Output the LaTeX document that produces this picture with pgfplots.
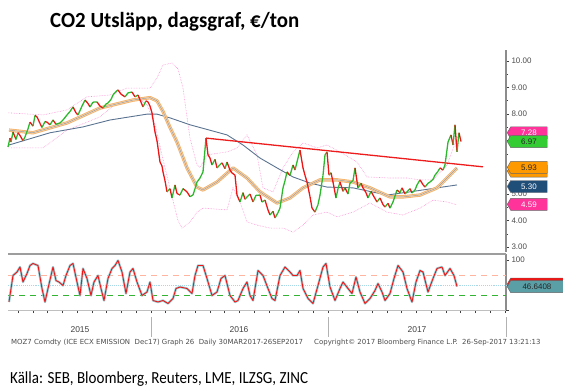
\documentclass[border=0pt]{standalone}
\usepackage{fontspec}
\setmainfont{Carlito}
\newfontfamily\axfont{Liberation Sans}
\newfontfamily\ftfont{DejaVu Sans}
\usepackage{pgfplots}
\pgfplotsset{compat=1.18}
\usepgfplotslibrary{colormaps}
\usetikzlibrary{shapes.symbols}

\definecolor{cgreen}{HTML}{2DB82D}
\definecolor{cred}{HTML}{F01515}
\definecolor{cma}{HTML}{F4B26A}
\definecolor{cnavy}{HTML}{5A7390}
\definecolor{cpink}{HTML}{FF8FD0}
\definecolor{ctrend}{HTML}{EE1C1C}
\definecolor{ctagpink}{HTML}{FF3399}
\definecolor{ctaggreen}{HTML}{33CC33}
\definecolor{ctagorange}{HTML}{FF9900}
\definecolor{ctagnavy}{HTML}{1F4E79}
\definecolor{cteal}{HTML}{5A9EA6}
\definecolor{crsish}{HTML}{9CD2DA}
\definecolor{caxis}{HTML}{8C8C8C}
\definecolor{chi}{RGB}{255,180,160}
\definecolor{clo}{RGB}{50,180,50}
\definecolor{cmid}{RGB}{170,215,232}

\newsavebox\titlebox
\newsavebox\srcbox

\pgfplotstableread{
x y d
8 6.77 1
10 7.10 0
11 6.95 1
13 7.33 0
16 7.05 1
18 7.30 0
20 7.20 0
23 7.00 1
25 7.14 1
28 7.45 1
30 7.70 0
33 7.55 1
35 7.95 0
37 7.90 0
40 7.65 0
42 7.50 1
45 7.72 0
47 7.70 0
50 7.60 1
53 7.78 0
56 7.62 1
60 7.67 1
63 7.78 1
67 7.97 1
70 8.10 1
73 8.27 0
76 8.05 0
78 7.97 1
82 8.30 1
85 8.53 0
88 8.40 0
90 8.27 1
93 8.45 1
97 8.46 0
100 8.30 0
103 8.23 1
106 8.38 1
108 8.42 1
111 8.55 1
113 8.72 1
116 8.85 1
118 8.91 0
121 8.75 0
125 8.65 1
128 8.80 1
132 8.83 0
135 8.65 1
138 8.72 0
141 8.45 0
143 8.27 1
146 8.50 0
148 8.46 0
150 8.30 0
152 8.05 0
155 7.33 0
157 7.00 0
160 6.20 0
162 6.05 0
163 5.83 0
165 5.50 0
167 5.08 1
170 5.20 0
172 4.85 1
175 5.34 0
177 5.02 0
180 4.96 1
183 5.20 0
187 5.08 0
190 4.90 1
193 4.96 1
195 5.20 1
197 5.45 1
200 5.60 1
203 5.83 1
206 7.10 0
208 6.47 0
210 6.35 0
212 6.09 1
215 6.30 0
217 5.98 1
220 6.10 1
222 6.17 0
225 5.95 1
227 6.20 0
230 5.90 0
232 5.79 0
235 5.71 0
237 4.96 0
240 4.70 1
243 5.05 0
245 4.80 1
247 4.89 1
250 5.00 0
253 4.70 1
256 4.95 1
260 4.96 0
262 4.70 1
265 4.77 0
268 4.40 0
270 4.21 1
273 4.35 0
275 4.10 1
278 4.30 1
280 4.47 1
283 5.23 1
285 5.50 1
287 5.83 0
290 5.70 1
293 6.09 0
295 5.90 1
297 6.20 1
300 6.65 0
303 5.98 0
305 5.70 0
307 5.45 0
310 4.90 0
312 4.47 0
315 4.32 1
318 4.60 1
320 4.96 1
323 5.70 1
325 6.47 1
327 6.58 0
329 5.71 1
331 5.80 0
333 5.45 0
336 4.85 1
338 5.20 1
340 5.45 0
343 5.10 1
345 5.23 0
348 5.00 1
350 5.41 1
353 5.50 1
355 5.98 0
358 5.23 1
361 5.40 0
363 5.23 0
366 5.05 0
368 4.85 1
371 5.10 0
373 4.96 0
377 4.70 1
380 4.85 0
383 4.60 0
385 4.51 1
388 4.65 0
390 4.47 1
393 4.70 1
397 5.15 0
400 5.05 1
402 5.23 0
405 5.00 1
407 5.08 1
410 5.20 0
412 5.04 1
415 5.15 1
417 5.34 1
420 5.53 0
423 5.35 0
425 5.26 1
428 5.40 1
430 5.45 1
433 5.55 1
435 5.71 1
438 5.85 1
440 5.98 0
443 5.90 1
445 6.09 1
448 6.95 1
451 7.22 0
453 6.84 1
455 7.60 0
457 6.58 1
459 7.30 0
461 6.97 0
}\price

\pgfplotstableread{
x y
8 8.05
43 7.97
67 8.16
87 8.65
110 8.72
127 8.98
150 8.98
157 9.36
163 9.85
172 9.92
178 9.70
183 8.98
187 7.90
190 7.10
197 6.09
200 6.00
207 6.47
227 6.58
237 6.73
247 7.22
257 6.47
263 5.23
273 5.08
283 5.98
293 6.58
303 6.92
317 6.73
327 6.84
340 6.58
357 6.20
367 5.64
390 5.60
407 5.60
420 5.53
433 5.53
447 6.09
455 6.90
459 7.28
}\bbup

\pgfplotstableread{
x y
8 6.73
43 6.73
67 7.40
87 7.70
100 7.90
117 8.42
140 8.53
147 8.35
155 7.60
163 6.30
172 4.90
178 4.00
182 3.72
190 3.95
197 4.32
203 4.47
227 4.40
233 5.23
240 4.70
247 3.95
257 3.83
270 3.72
283 3.72
293 3.57
303 3.83
313 4.21
327 4.32
337 4.14
353 4.32
370 4.66
387 4.32
403 4.21
420 4.47
433 4.77
447 4.70
457 4.59
}\bblo

\pgfplotstableread{
x y
9 7.40
33 7.30
67 7.67
100 8.23
133 8.53
150 8.62
157 8.50
163 8.10
170 7.50
177 6.95
187 5.98
197 5.26
203 5.15
217 5.45
233 5.98
247 5.60
260 5.08
277 4.66
290 4.85
303 5.23
320 5.53
337 5.53
353 5.45
370 5.23
390 4.89
403 4.89
420 4.96
437 5.23
447 5.60
457 5.98
}\mavg

\pgfplotstableread{
x y
9 6.84
50 7.30
83 7.52
110 7.78
147 8.00
157 8.00
170 7.86
190 7.60
227 7.22
243 6.84
260 6.35
277 5.98
293 5.64
310 5.41
327 5.26
353 5.23
387 4.96
410 5.08
437 5.23
457 5.34
}\mlong

\pgfplotstableread{
x y
9 16
13 69
17 76
20 86
23 56
27 73
30 89
33 93
38 89
42 43
45 16
48 43
53 86
56 59
59 56
63 49
66 69
70 89
73 93
77 56
80 29
83 83
87 63
91 29
94 56
98 69
101 43
104 19
108 63
112 83
115 89
118 99
122 76
126 33
130 76
133 83
137 56
142 29
147 36
150 56
153 19
158 16
163 19
168 13
173 23
176 43
180 46
187 43
192 33
195 69
198 89
203 89
207 63
212 29
217 36
221 63
225 69
230 29
235 16
238 19
243 43
247 56
250 29
253 19
258 79
263 69
268 43
272 23
275 19
280 69
285 86
290 76
293 69
297 69
300 79
303 43
308 23
313 13
318 49
323 86
326 93
330 46
335 19
340 43
343 56
348 43
352 33
356 66
360 36
365 13
370 23
375 39
378 53
382 36
385 19
390 33
394 63
398 89
403 76
407 43
412 16
416 56
420 79
423 76
428 36
433 63
437 83
442 86
445 69
450 83
454 69
457 47
}\rsi

\begin{document}%
\sbox\titlebox{\bfseries\fontsize{21.7}{26}\selectfont CO2 Utsläpp, dagsgraf, €/ton}%
\sbox\srcbox{\fontsize{17}{20}\selectfont Källa: SEB, Bloomberg, Reuters, LME, ILZSG, ZINC}%
\pgfmathsetmacro\tscale{249.93/\wd\titlebox}%
\pgfmathsetmacro\sscale{299.12/\wd\srcbox}%
\begin{tikzpicture}
\path[use as bounding box] (0,0) rectangle (563bp,-390bp);

\begin{axis}[
  at={(8bp,-252bp)}, anchor=south west, scale only axis,
  width=498bp, height=202bp,
  xmin=8, xmax=506, ymin=2.82, ymax=10.41,
  axis x line=none, axis y line*=right,
  y axis line style={caxis, line width=1.5pt},
  ytick={3,4,...,10}, minor ytick={3.5,4.5,...,9.5},
  tick align=outside, major tick length=3bp, minor tick length=2bp,
  every tick/.style={black!75, line width=0.8pt},
  /pgf/number format/assume math mode=true,
  y tick label style={font=\axfont\fontsize{8}{9}\selectfont, text=black!70,
     /pgf/number format/fixed, /pgf/number format/fixed zerofill,
     /pgf/number format/precision=2, xshift=-1bp},
  clip=false,
]
\addplot[cpink, densely dotted, line width=0.6pt] table {\bbup};
\addplot[cpink, densely dotted, line width=0.6pt] table {\bblo};
\addplot[cnavy, line width=0.9pt] table {\mlong};
\addplot[cma, line width=3.4pt, line join=round] table {\mavg};
\addplot[white, opacity=0.55, line width=1.6pt, line join=round] table {\mavg};
\addplot[black!40, line width=0.5pt] table {\mavg};
\addplot[ctrend, line width=1.3pt] coordinates {(206,7.10) (483,6.02)};
\addplot[mesh, shader=flat corner, point meta=explicit, point meta min=0, point meta max=1,
  colormap={rg}{color(0)=(cred) color(1)=(cgreen)}, line width=1.3pt]
  table[meta=d] {\price};
\coordinate (t728) at (axis cs:507,7.30);
\coordinate (t697) at (axis cs:507,6.97);
\coordinate (t593b) at (axis cs:507,5.86);
\coordinate (t593) at (axis cs:507,6.00);
\coordinate (t530) at (axis cs:507,5.28);
\coordinate (t459) at (axis cs:507,4.61);
\end{axis}

\begin{axis}[
  at={(8bp,-310bp)}, anchor=south west, scale only axis,
  width=498bp, height=56bp,
  xmin=8, xmax=506, ymin=0, ymax=112,
  axis x line*=bottom, axis y line*=right,
  y axis line style={caxis, line width=1.5pt},
  x axis line style={black!25, line width=0.6pt},
  xtick={18.25,33,...,506}, xticklabels={},
  ytick={0,50,100}, yticklabels={,,100},
  tick align=outside, major tick length=3bp,
  every tick/.style={black!75, line width=0.6pt},
  /pgf/number format/assume math mode=true,
  y tick label style={font=\axfont\fontsize{8}{9}\selectfont, text=black!70, xshift=-1bp},
  clip=false,
]
\draw[caxis!85, line width=1.8pt] (rel axis cs:0,1) -- (rel axis cs:1,1);
\addplot[draw=chi, color=chi, dash pattern=on 6bp off 5bp, line width=1pt] coordinates {(8,70) (506,70)};
\addplot[draw=clo, color=clo, dash pattern=on 6bp off 5bp, line width=1pt] coordinates {(8,30) (506,30)};
\addplot[draw=cmid, color=cmid, densely dotted, line width=0.9pt] coordinates {(8,50) (506,50)};
\addplot[draw=crsish, line width=2.4pt, line join=round] table {\rsi};
\addplot[draw=cred, line width=0.9pt, line join=round] table {\rsi};
\coordinate (trsir) at (axis cs:507,52);
\coordinate (trsi) at (axis cs:507,46.64);
\end{axis}

% value tags
\tikzset{tag/.style={signal, signal to=west, signal pointer angle=120, draw=black!60, line width=0.4pt,
   minimum width=40bp, minimum height=12bp, inner sep=1pt, anchor=west,
   font=\axfont\fontsize{8}{9}\selectfont}}
\node[tag, fill=ctagpink, text=white] at (t728) {7.28};
\node[tag, fill=ctaggreen, text=black!85] at (t697) {6.97};
\node[tag, fill=ctagorange, text=black!85] at (t593b) {\phantom{5.93}};
\node[tag, fill=ctagorange, text=black!85] at (t593) {5.93};
\node[tag, fill=ctagnavy, text=white] at (t530) {5.30};
\node[tag, fill=ctagpink, text=white] at (t459) {4.59};
\node[tag, fill=cred, minimum width=56bp] at (trsir) {\phantom{46.6408}};
\node[tag, fill=cteal, text=black!85, minimum width=56bp] at (trsi) {46.6408};

% year row
\foreach \xx in {151,328,506} \draw[black!30, line width=0.6pt] (\xx bp,-317bp) -- (\xx bp,-337bp);
\node[font=\axfont\fontsize{8.5}{9}\selectfont, text=black!75, anchor=base] at (80bp,-332bp) {2015};
\node[font=\axfont\fontsize{8.5}{9}\selectfont, text=black!75, anchor=base] at (239bp,-332bp) {2016};
\node[font=\axfont\fontsize{8.5}{9}\selectfont, text=black!75, anchor=base] at (417bp,-332bp) {2017};

% footer
\node[font=\ftfont\fontsize{7}{8}\selectfont, text=black!70, anchor=base west, inner sep=0pt] at (11bp,-344bp)
  {MOZ7 Comdty (ICE ECX EMISSION\ \ Dec17) Graph 26\ \ Daily 30MAR2017-26SEP2017};
\node[font=\ftfont\fontsize{7}{8}\selectfont, text=black!70, anchor=base west, inner sep=0pt] at (314bp,-344bp)
  {Copyright© 2017 Bloomberg Finance L.P.};
\node[font=\ftfont\fontsize{7}{8}\selectfont, text=black!70, anchor=base west, inner sep=0pt] at (462bp,-344bp)
  {26-Sep-2017 13:21:13};

% title and source
\node[anchor=base west, inner sep=0pt] at (50bp,-27.3bp)
  {\scalebox{\tscale}[1]{\usebox\titlebox}};
\node[anchor=base west, inner sep=0pt] at (10bp,-383.3bp)
  {\scalebox{\sscale}[1]{\usebox\srcbox}};
\end{tikzpicture}%
\end{document}
